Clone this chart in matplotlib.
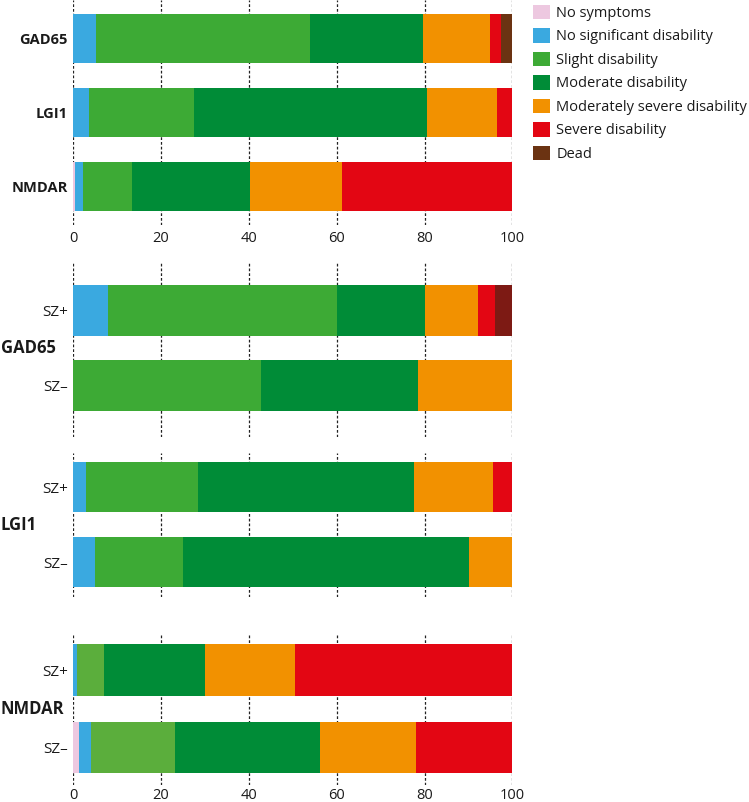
import matplotlib
matplotlib.use("Agg")
import matplotlib.pyplot as plt
from matplotlib.patches import Patch
import numpy as np

plt.rcParams['font.family'] = ['Open Sans', 'DejaVu Sans']

categories = ["No symptoms", "No significant disability", "Slight disability",
              "Moderate disability", "Moderately severe disability",
              "Severe disability", "Dead"]
colors = ['#EDC8E0', '#3AA9E0', '#3DAA35', '#008C37', '#F29100', '#E30613', '#6B3312']

overall_labels = ["GAD65", "LGI1", "NMDAR"]
overall_gad65 = [0, 5.2, 48.8, 25.6, 15.4, 2.5, 2.5]
overall_lgi1 = [0, 3.5, 24.1, 52.9, 16.0, 3.5, 0]
overall_nmdar = [0.4, 1.7, 11.3, 26.9, 21.0, 38.7, 0]

sz_labels = ["SZ+", "SZ\u2013"]
gad65_szpos = [0, 7.9, 52.1, 20.0, 12.1, 4.0, 3.9]
gad65_szneg = [0, 0, 42.8, 35.8, 21.4, 0, 0]
lgi1_szpos = [0, 2.9, 25.5, 49.2, 18.0, 4.4, 0]
lgi1_szneg = [0, 5.0, 20.0, 65.2, 9.8, 0, 0]
nmdar_szpos = [0, 0.9, 6.1, 23.0, 20.5, 49.5, 0]
nmdar_szneg = [1.3, 2.8, 19.1, 33.0, 21.9, 21.9, 0]

W, H = 749, 802
fig = plt.figure(figsize=(W / 100, H / 100), dpi=100)

x0, x1 = 73.3, 512.3


def make_ax(top, bottom):
    return fig.add_axes([x0 / W, (H - bottom) / H, (x1 - x0) / W, (bottom - top) / H])


def draw(ax, labels, rows, ylim, height, cols, show_x, label_font, xpad=4):
    data = np.array(rows)
    ypos = np.arange(len(labels))
    left = np.zeros(len(labels))
    for j in range(data.shape[1]):
        ax.barh(ypos, data[:, j], left=left, height=height, color=cols[j],
                edgecolor='none', zorder=2)
        left += data[:, j]
    ax.set_xlim(0, 100)
    ax.set_ylim(*ylim)
    ax.set_xticks([0, 20, 40, 60, 80, 100])
    ax.set_yticks(ypos)
    ax.set_yticklabels(labels, **label_font)
    for s in ax.spines.values():
        s.set_visible(False)
    ax.set_axisbelow(True)
    ax.grid(axis='x', color='#222222', linestyle=(0, (2.2, 1.6)), linewidth=0.9, zorder=0)
    ax.grid(axis='y', visible=False)
    ax.tick_params(axis='both', length=0)
    ax.tick_params(axis='y', pad=4, colors='#1a1a1a')
    ax.tick_params(axis='x', pad=xpad, labelsize=10.5, colors='#1a1a1a')
    if not show_x:
        ax.set_xticklabels([])


# Panel 1: overall
ax1 = make_ax(0, 225)
draw(ax1, overall_labels, [overall_gad65, overall_lgi1, overall_nmdar],
     (225 / 74 - 38.5 / 74, -38.5 / 74), 0.66, colors, True,
     dict(fontsize=10.5, fontweight='bold'))

# Panel 2: GAD65 by seizure
cols2 = colors[:6] + ['#7D1A14']
ax2 = make_ax(262, 437)
draw(ax2, sz_labels, [gad65_szpos, gad65_szneg],
     ((437 - 310.5) / 75, (262 - 310.5) / 75), 0.68, cols2, False,
     dict(fontsize=11))

# Panel 3: LGI1 by seizure
ax3 = make_ax(452.7, 596.7)
draw(ax3, sz_labels, [lgi1_szpos, lgi1_szneg],
     ((596.7 - 487) / 75, (452.7 - 487) / 75), 0.67, colors, False,
     dict(fontsize=11))

# Panel 4: NMDAR by seizure
cols4 = colors[:2] + ['#5BAE3C'] + colors[3:]
ax4 = make_ax(632.7, 785)
draw(ax4, sz_labels, [nmdar_szpos, nmdar_szneg],
     ((785 - 670) / 77.5, (632.7 - 670) / 77.5), 0.67, cols4, True,
     dict(fontsize=11), xpad=2)

# group labels
for name, yc in [("GAD65", 348), ("LGI1", 524.5), ("NMDAR", 708.5)]:
    fig.text(1 / W, (H - yc) / H, name, fontsize=12, fontweight='bold',
             ha='left', va='center', color='#1a1a1a')

# legend
handles = [Patch(facecolor=c, edgecolor='none') for c in colors]
fig.legend(handles, categories, loc='upper left',
           bbox_to_anchor=(527 / W, (H + 1) / H), frameon=False,
           fontsize=10.5, handlelength=1.15, handleheight=1.15,
           handletextpad=0.45, labelspacing=0.5, borderaxespad=0,
           labelcolor='#1a1a1a')

fig.savefig("out.png", dpi=100)
